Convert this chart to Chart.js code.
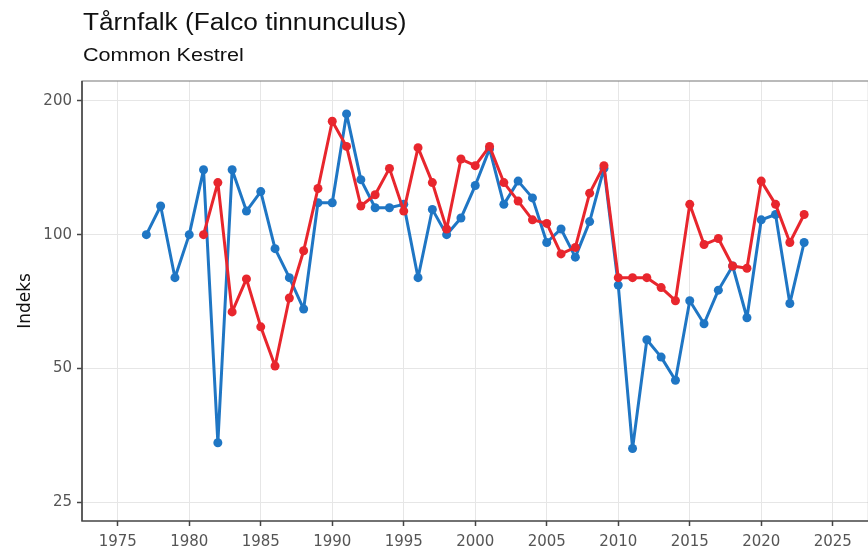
<!DOCTYPE html>
<html>
<head>
<meta charset="utf-8">
<script src="https://cdn.jsdelivr.net/npm/chart.js@4"></script>
<style>
  html, body { margin: 0; padding: 0; background: #fff; overflow: hidden; }
  #wrap { position: relative; width: 868px; height: 551px; overflow: hidden; }
  #chartBox { position: absolute; left: 0; top: 0; width: 873px; height: 551px; }
  .ttl { position: absolute; left: 83px; font-family: "Liberation Sans", Arial, sans-serif; color: #111;
         white-space: nowrap; transform-origin: left top; }
  #title { top: 9px; font-size: 23px; transform: scaleX(1.14); }
  #subtitle { top: 45px; font-size: 18px; transform: scaleX(1.2); }
</style>
</head>
<body>
<div id="wrap">
  <div id="chartBox"><canvas id="chart" width="873" height="551"></canvas></div>
  <div class="ttl" id="title">Tårnfalk (Falco tinnunculus)</div>
  <div class="ttl" id="subtitle">Common Kestrel</div>
</div>
<script>
// blue series, 1977-2023
const blueYears = [];
for (let y = 1977; y <= 2023; y++) blueYears.push(y);
const blueValues = [100, 116, 80, 100, 140, 34, 140, 113, 125, 93,
                    80, 68, 118, 118, 187, 133, 115, 115, 117, 80,
                    114, 100, 109, 129, 156, 117, 132, 121, 96, 103,
                    89, 107, 141, 77, 33, 58, 53, 47, 71, 63,
                    75, 85, 65, 108, 111, 70, 96];

// red series, 1981-2023
const redYears = [];
for (let y = 1981; y <= 2023; y++) redYears.push(y);
const redValues = [100, 131, 67, 79.5, 62, 50.6, 72, 92, 127, 180,
                   158, 116, 123, 141, 113, 157, 131, 103, 148, 143,
                   158, 131, 119, 108, 106, 90.5, 93.6, 124, 143, 80,
                   80, 80, 76, 71, 117, 95, 98, 85, 84, 132,
                   117, 96, 111];

const xTicks = [1975, 1980, 1985, 1990, 1995, 2000, 2005, 2010, 2015, 2020, 2025];
const yTicks = [25, 50, 100, 200];

const BLUE = '#1f76c4';
const RED = '#e8262d';
const TICKFONT = '"DejaVu Sans", sans-serif';

const toPoints = (xs, ys) => xs.map((x, i) => ({ x: x, y: ys[i] }));

// grey frame round the panel
const panelBorder = {
    id: 'panelBorder',
    afterDatasetsDraw(chart) {
        const a = chart.chartArea;
        const ctx = chart.ctx;
        ctx.save();
        ctx.strokeStyle = '#777';
        ctx.lineWidth = 1.2;
        ctx.beginPath();
        ctx.moveTo(a.left, a.bottom);
        ctx.lineTo(a.left, a.top);
        ctx.lineTo(a.right, a.top);
        ctx.lineTo(a.right, a.bottom);
        ctx.stroke();
        ctx.strokeStyle = '#444';
        ctx.lineWidth = 1.5;
        ctx.beginPath();
        ctx.moveTo(a.left, a.top);
        ctx.lineTo(a.left, a.bottom);
        ctx.lineTo(a.right, a.bottom);
        ctx.stroke();
        ctx.restore();
    }
};

new Chart(document.getElementById('chart').getContext('2d'), {
    type: 'line',
    data: {
        datasets: [
            {
                label: 'red',
                data: toPoints(redYears, redValues),
                borderColor: RED, backgroundColor: RED,
                borderWidth: 3, borderJoinStyle: 'round',
                pointRadius: 4.5, pointBorderWidth: 0,
                tension: 0, order: 0
            },
            {
                label: 'blue',
                data: toPoints(blueYears, blueValues),
                borderColor: BLUE, backgroundColor: BLUE,
                borderWidth: 3, borderJoinStyle: 'round',
                pointRadius: 4.5, pointBorderWidth: 0,
                tension: 0, order: 1
            }
        ]
    },
    options: {
        responsive: false,
        animation: false,
        layout: { padding: { top: 81, right: 0, left: 0, bottom: 0 } },
        plugins: { legend: { display: false }, tooltip: { enabled: false } },
        scales: {
            x: {
                type: 'linear',
                min: 1972.5, max: 2027.5,
                afterBuildTicks: s => { s.ticks = xTicks.map(v => ({ value: v })); },
                afterFit: s => { s.height = 30; },
                grid: { color: '#e6e6e6', lineWidth: 1, tickColor: '#444', tickLength: 5, tickWidth: 1.5 },
                border: { display: false },
                ticks: { color: '#555', font: { family: TICKFONT, size: 15 }, padding: 7, maxRotation: 0,
                         callback: v => String(v) }
            },
            y: {
                type: 'logarithmic',
                min: 22.66, max: 221.8,
                afterBuildTicks: s => { s.ticks = yTicks.map(v => ({ value: v })); },
                afterFit: s => { s.width = 82; },
                grid: { color: '#e6e6e6', lineWidth: 1, tickColor: '#444', tickLength: 5, tickWidth: 1.5 },
                border: { display: false },
                title: { display: true, text: 'Indeks', color: '#111', font: { family: TICKFONT, size: 17 }, padding: { top: 15, bottom: 0 } },
                ticks: { color: '#555', font: { family: TICKFONT, size: 15 }, padding: 5,
                         callback: v => String(v) }
            }
        }
    },
    plugins: [panelBorder]
});
</script>
</body>
</html>
